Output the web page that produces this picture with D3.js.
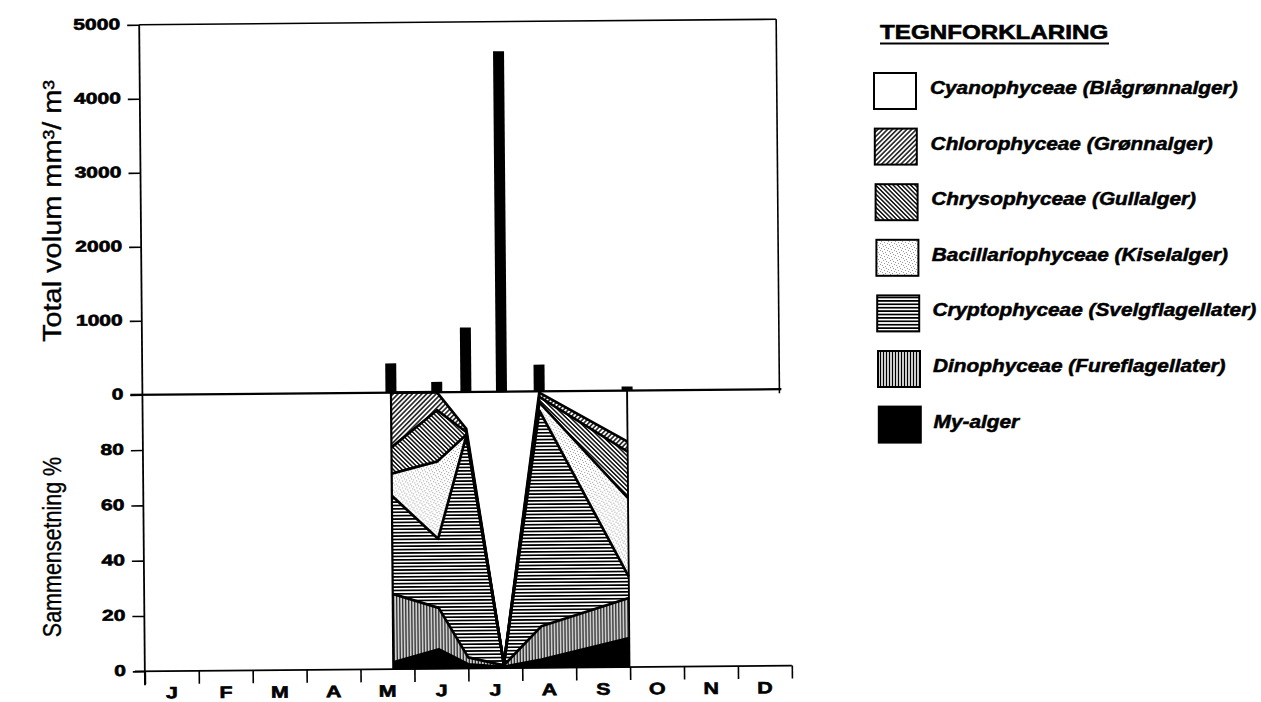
<!DOCTYPE html>
<html><head><meta charset="utf-8">
<script src="https://cdn.jsdelivr.net/npm/d3@7"></script>
<style>
html,body{margin:0;padding:0;background:#fff;}
svg{display:block;}
text{font-family:"Liberation Sans",Arial,Helvetica,sans-serif;fill:#000;}
</style></head>
<body>
<svg id="chart" width="1261" height="702"></svg>
<script>
// ---------------- data ----------------
const months = ["J","F","M","A","M","J","J","A","S","O","N","D"];
// sampling times in fractional months (0 = 1 Jan)
const sampleMonth = [4.61, 5.46, 6.0, 6.66, 7.36, 8.99];
// total volume mm3/m3
const totalVolume = [395, 140, 870, 4600, 360, 55];
const volumeTicks = [0, 1000, 2000, 3000, 4000, 5000];
const pctTicks = [0, 20, 40, 60, 80];
// composition % (bottom to top of the stack)
const myAlger    = [2.5, 7,    1.5, 0.5, 3,   10.5];
const dinophyc   = [24.7, 15,  2.5, 0.5, 12,  14.5];
const cryptophyc = [35.5, 25,  80,  0.5, 78,  7.7];
const bacillario = [8,   28,   0.5, 0,   3,   28.4];
const chrysophyc = [9.5, 18.5, 1,   0,   2,   16.8];
const chlorophyc = [19.8, 6.5, 1.2, 0,   1.5, 3.6];
const cyanophyc  = [0,   0,    13.3, 98.5, 0.5, 18.5];
const groupKeys = ["my","dino","crypto","bacil","chryso","chloro","cyano"];
const groupLabels = {
  cyano: "Cyanophyceae (Blågrønnalger)",
  chloro: "Chlorophyceae (Grønnalger)",
  chryso: "Chrysophyceae (Gullalger)",
  bacil: "Bacillariophyceae (Kiselalger)",
  crypto: "Cryptophyceae (Svelgflagellater)",
  dino: "Dinophyceae (Fureflagellater)",
  my: "My-alger"
};
const legendOrder = ["cyano","chloro","chryso","bacil","crypto","dino","my"];
const legendTitle = "TEGNFORKLARING";
const yTitleTop = "Total volum mm³/ m³";
const yTitleBottom = "Sammensetning %";

// ---------------- build ----------------
const svg = d3.select("#chart");
const defs = svg.append("defs");

function linePattern(id, size, angle, sw){
  const p = defs.append("pattern").attr("id", id).attr("patternUnits","userSpaceOnUse")
    .attr("width", size).attr("height", size);
  if (angle !== null) p.attr("patternTransform", `rotate(${angle})`);
  p.append("rect").attr("width", size).attr("height", size).attr("fill","#fff");
  p.append("line").attr("x1",0).attr("x2",size).attr("y1",size/2).attr("y2",size/2)
    .attr("stroke","#000").attr("stroke-width", sw);
}
linePattern("p-chloro", 3.4, -45, 1.4);
linePattern("p-chryso", 3.1, 45, 1.4);
linePattern("p-crypto", 3.4, null, 1.7);
linePattern("p-dino", 3.0, 90, 1.4);
(function(){
  const p = defs.append("pattern").attr("id","p-bacil").attr("patternUnits","userSpaceOnUse")
    .attr("width",7).attr("height",7);
  p.append("rect").attr("width",7).attr("height",7).attr("fill","#fff");
  [[1,1],[4,2],[2,4],[5,5],[0,6],[6,3],[3,0]].forEach(([x,y])=>
    p.append("rect").attr("x",x).attr("y",y).attr("width",1).attr("height",1).attr("fill","#999"));
})();
const fills = {my:"#000", dino:"url(#p-dino)", crypto:"url(#p-crypto)", bacil:"url(#p-bacil)",
  chryso:"url(#p-chryso)", chloro:"url(#p-chloro)", cyano:"#fff"};

function sText(parent, x, y, str, opts){
  const o = Object.assign({sx:1, sy:1, size:16, weight:"bold", style:"normal", anchor:"start", rotate:0, sw:0.5}, opts||{});
  const g = parent.append("g").attr("transform", `translate(${x},${y}) rotate(${o.rotate}) scale(${o.sx},${o.sy})`);
  const t = g.append("text").attr("text-anchor", o.anchor).attr("font-size", o.size)
    .attr("font-weight", o.weight).attr("font-style", o.style).text(str);
  if (o.sw > 0) t.attr("stroke","#000").attr("stroke-width", o.sw);
  return t;
}

const chart = svg.append("g").attr("transform","rotate(-0.5,460,345)");

const x = d3.scaleLinear().domain([0,12]).range([142, 789]);
const yVol = d3.scaleLinear().domain([0,5000]).range([392, 22]);
const yPct = d3.scaleLinear().domain([0,100]).range([668.5, 392]);

// composition stack
const rows = sampleMonth.map((m,i)=>({m, my:myAlger[i], dino:dinophyc[i], crypto:cryptophyc[i],
  bacil:bacillario[i], chryso:chrysophyc[i], chloro:chlorophyc[i], cyano:cyanophyc[i]}));
const stack = d3.stack().keys(groupKeys)(rows);
const area = d3.area().x(d=>x(d.data.m)).y0(d=>yPct(d[0])).y1(d=>yPct(d[1]));
const topLine = d3.line().x(d=>x(d.data.m)).y(d=>yPct(d[1]));

chart.append("g").selectAll("path").data(stack).join("path")
  .attr("d", area).attr("fill", d=>fills[d.key]).attr("stroke","#000").attr("stroke-width",1);
chart.append("g").selectAll("path").data(stack.filter(s=>s.key!=="cyano")).join("path")
  .attr("d", topLine).attr("fill","none").attr("stroke","#000").attr("stroke-width",2.7)
  .attr("stroke-linejoin","round");
// vertical edges of composition block
const x0 = x(sampleMonth[0]), x1 = x(sampleMonth[sampleMonth.length-1]);
chart.append("line").attr("x1",x0).attr("x2",x0).attr("y1",yPct(0)).attr("y2",yPct(100))
  .attr("stroke","#000").attr("stroke-width",2.2);
chart.append("line").attr("x1",x1).attr("x2",x1).attr("y1",yPct(0)).attr("y2",yPct(100))
  .attr("stroke","#000").attr("stroke-width",1.8);

// volume bars
chart.append("g").selectAll("rect").data(totalVolume).join("rect")
  .attr("x",(d,i)=>x(sampleMonth[i])-5.5).attr("width",11)
  .attr("y",d=>yVol(d)).attr("height",d=>yVol(0)-yVol(d)).attr("fill","#000");

// frame lines
const stroke = (sel,w)=>sel.attr("stroke","#000").attr("stroke-width",w||1.6);
stroke(chart.append("line").attr("x1",142).attr("x2",779).attr("y1",yVol(5000)).attr("y2",yVol(5000)));
stroke(chart.append("line").attr("x1",779).attr("x2",779).attr("y1",yVol(5000)).attr("y2",yVol(0)+4));
stroke(chart.append("line").attr("x1",130).attr("x2",781).attr("y1",yVol(0)).attr("y2",yVol(0)), 2.2);

// left axes (tick marks via d3 axis)
const axVol = chart.append("g").attr("transform","translate(142,0)")
  .call(d3.axisLeft(yVol).tickValues(volumeTicks).tickSize(12).tickFormat(""));
const axPct = chart.append("g").attr("transform","translate(142,0)")
  .call(d3.axisLeft(yPct).tickValues(pctTicks).tickSize(12).tickFormat(""));
[axVol, axPct].forEach(a=>{ a.select(".domain").remove(); a.selectAll("line").attr("stroke","#000").attr("stroke-width",1.6); });
stroke(chart.append("line").attr("x1",142).attr("x2",142).attr("y1",yVol(5000)).attr("y2",yPct(0)+14), 1.8);

volumeTicks.forEach(v=>sText(chart, 123, yVol(v)+4.5, String(v), {anchor:"end", size:15.5, sx:1.36, sw:0.6}));
pctTicks.forEach(v=>sText(chart, 123, yPct(v)+4.5, String(v), {anchor:"end", size:15.5, sx:1.36, sw:0.6}));

// bottom axis
const axX = chart.append("g").attr("transform",`translate(0,${yPct(0)})`)
  .call(d3.axisBottom(x).tickValues(d3.range(0,13)).tickSize(13).tickFormat(""));
axX.select(".domain").remove();
axX.selectAll("line").attr("stroke","#000").attr("stroke-width",1.6);
stroke(chart.append("line").attr("x1",132).attr("x2",789).attr("y1",yPct(0)).attr("y2",yPct(0)), 1.8);
months.forEach((mName,i)=>sText(chart, x(i+0.5), 696, mName, {anchor:"middle", size:16.5, sx:1.3, sw:0.6}));

// y titles
sText(svg, 61, 211, yTitleTop, {anchor:"middle", size:21, weight:"normal", rotate:-90, sy:1.2, sw:0.3})
  .attr("textLength", 262).attr("lengthAdjust","spacingAndGlyphs");
sText(svg, 61, 547, yTitleBottom, {anchor:"middle", size:21.5, weight:"normal", rotate:-90, sy:1.2, sw:0.3});

// legend
const lg = svg.append("g");
sText(lg, 880, 39, legendTitle, {size:19.5, sx:1.24, sw:0.6});
lg.append("line").attr("x1",880).attr("x2",1109).attr("y1",43.5).attr("y2",43.5).attr("stroke","#000").attr("stroke-width",2.2);
legendOrder.forEach((k,i)=>{
  const yy = 73 + 55.6*i;
  lg.append("rect").attr("x",874 + i*0.8).attr("y",yy).attr("width",42).attr("height",36)
    .attr("fill",fills[k]).attr("stroke","#000").attr("stroke-width",2);
  sText(lg, 930 + i*0.6, yy+21, groupLabels[k], {size:17.5, style:"italic", sx:1.19, sw:0.5});
});
</script>
</body></html>
